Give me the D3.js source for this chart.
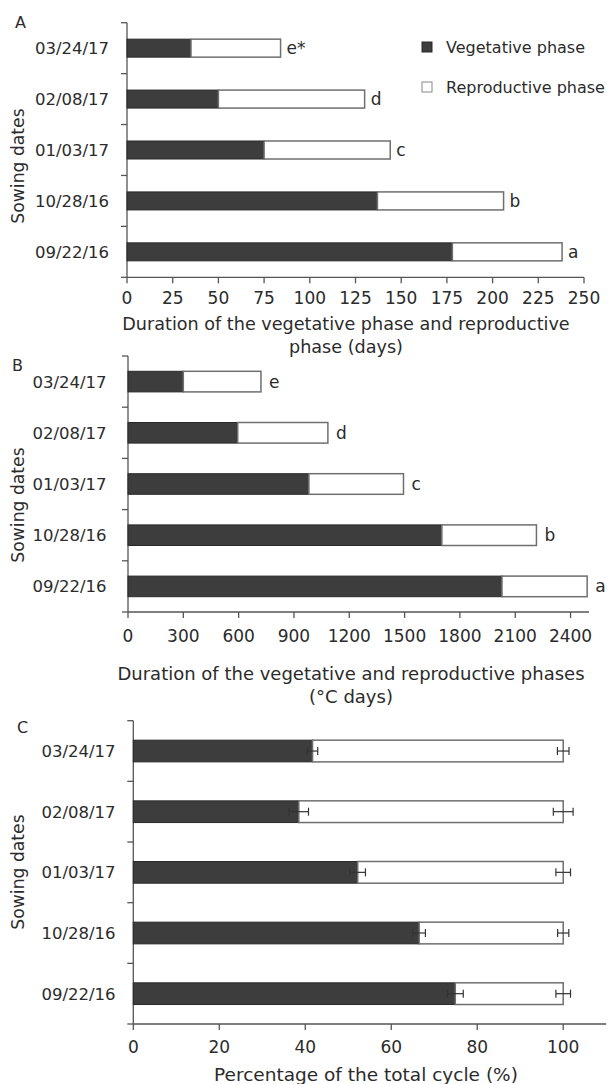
<!DOCTYPE html>
<html><head><meta charset="utf-8">
<script src="https://cdn.jsdelivr.net/npm/d3@7"></script>
<style>
body{margin:0;background:#fff;}
svg text{font-family:'DejaVu Sans',sans-serif;fill:#2b2b2b;}
</style></head>
<body><svg id="c" width="608" height="1084"></svg>
<script>
const categories = ["03/24/17","02/08/17","01/03/17","10/28/16","09/22/16"];
// Panel A: days
const daysVeg = [35, 50, 75, 137, 178];
const daysRep = [49, 80, 69, 69, 60];
const daysLetters = ["e*","d","c","b","a"];
const daysTicks = [0,25,50,75,100,125,150,175,200,225,250];
// Panel B: degree days
const gddVeg = [300, 595, 981, 1702, 2028];
const gddRep = [421, 489, 513, 513, 462];
const gddLetters = ["e","d","c","b","a"];
const gddTicks = [0,300,600,900,1200,1500,1800,2100,2400];
// Panel C: percentage
const pctVeg = [41.7, 38.5, 52.2, 66.5, 74.9];
const pctVegErr = [1.2, 2.25, 1.8, 1.45, 1.85];
const pctTotErr = [1.35, 2.3, 1.7, 1.3, 1.7];
const pctTicks = [0,20,40,60,80,100];
const seriesNames = ["Vegetative phase","Reproductive phase"];

const svg = d3.select("#c");
const DARK = "#3d3d3d", DARKSTROKE="#2a2a2a", LIGHTSTROKE="#6f6f6f", AXIS="#555";
const FS = 16.5;

function panel(o){
  const g = svg.append("g");
  const x = d3.scaleLinear().domain(o.xDomain).range(o.xRange);
  const y = d3.scaleBand().domain(categories).range(o.yRange).paddingInner(0).paddingOuter(0);
  const bh = o.barH;
  g.append("line").attr("x1",x(0)).attr("x2",x(0)).attr("y1",o.yRange[0]).attr("y2",o.yRange[1]).attr("stroke",AXIS).attr("stroke-width",1.3);
  g.append("line").attr("x1",x(0)).attr("x2",x(o.xDomain[1])).attr("y1",o.yRange[1]).attr("y2",o.yRange[1]).attr("stroke",AXIS).attr("stroke-width",1.3);
  const bounds = categories.map(c=>y(c)).concat([o.yRange[1]]);
  g.selectAll(".yt").data(bounds).join("line").attr("x1",x(0)-6).attr("x2",x(0)).attr("y1",d=>d).attr("y2",d=>d).attr("stroke",AXIS).attr("stroke-width",1.3);
  g.selectAll(".xt").data(o.ticks).join("line").attr("x1",d=>x(d)).attr("x2",d=>x(d)).attr("y1",o.yRange[1]).attr("y2",o.yRange[1]+6).attr("stroke",AXIS).attr("stroke-width",1.3);
  g.selectAll(".xl").data(o.ticks).join("text").attr("x",d=>x(d)).attr("y",o.yRange[1]+o.tickLabDy).attr("text-anchor","middle").attr("font-size",17).text(d=>d);
  g.selectAll(".yl").data(categories).join("text").attr("x",o.catX).attr("y",d=>y(d)+y.bandwidth()/2+6).attr("text-anchor","end").attr("font-size",FS).text(d=>d);
  const rows = categories.map((c,i)=>({c, v:o.veg[i], r:o.rep[i], i}));
  g.selectAll(".bv").data(rows).join("rect").attr("x",x(0)).attr("y",d=>y(d.c)+(y.bandwidth()-bh)/2).attr("width",d=>x(d.v)-x(0)).attr("height",bh).attr("fill",DARK).attr("stroke",DARKSTROKE).attr("stroke-width",1);
  g.selectAll(".br").data(rows).join("rect").attr("x",d=>x(d.v)).attr("y",d=>y(d.c)+(y.bandwidth()-bh)/2).attr("width",d=>x(d.v+d.r)-x(d.v)).attr("height",bh).attr("fill","#fff").attr("stroke",LIGHTSTROKE).attr("stroke-width",1.5);
  if(o.letters){
    g.selectAll(".lt").data(rows).join("text").attr("x",d=>x(d.v+d.r)+o.letterGap).attr("y",d=>y(d.c)+y.bandwidth()/2+6).attr("font-size",17).text(d=>o.letters[d.i]);
  }
  if(o.errVeg){
    const ec="#333";
    rows.forEach(d=>{
      const cy = y(d.c)+y.bandwidth()/2;
      [[d.v,o.errVeg[d.i]],[d.v+d.r,o.errTot[d.i]]].forEach(([m,e])=>{
        g.append("line").attr("x1",x(m-e)).attr("x2",x(m+e)).attr("y1",cy).attr("y2",cy).attr("stroke",ec).attr("stroke-width",1.2);
        g.append("line").attr("x1",x(m-e)).attr("x2",x(m-e)).attr("y1",cy-4).attr("y2",cy+4).attr("stroke",ec).attr("stroke-width",1.2);
        g.append("line").attr("x1",x(m+e)).attr("x2",x(m+e)).attr("y1",cy-4).attr("y2",cy+4).attr("stroke",ec).attr("stroke-width",1.2);
      });
    });
  }
  g.append("text").attr("transform",`translate(24,${o.yTitleY}) rotate(-90)`).attr("text-anchor","middle").attr("font-size",17.2).text("Sowing dates");
  o.xTitle.forEach((t,i)=>{
    g.append("text").attr("x",o.xTitleX).attr("y",o.xTitleY+i*23).attr("text-anchor","middle").attr("font-size",o.titleFS).text(t);
  });
  g.append("text").attr("x",o.letterPos[0]).attr("y",o.letterPos[1]).attr("font-family","'Liberation Serif',serif").attr("font-size",16).text(o.panelLetter);
}

panel({xDomain:[0,250], xRange:[127,584], yRange:[22.7,277.3], barH:18, ticks:daysTicks, tickLabDy:27,
  catX:109, veg:daysVeg, rep:daysRep, letters:daysLetters, letterGap:6, yTitleY:166,
  xTitle:["Duration of the vegetative phase and reproductive","phase (days)"], xTitleX:346, xTitleY:330, titleFS:17.6,
  letterPos:[15,28], panelLetter:"A"});

panel({xDomain:[0,2500], xRange:[128,589], yRange:[356,612], barH:20.6, ticks:gddTicks, tickLabDy:30,
  catX:106.5, veg:gddVeg, rep:gddRep, letters:gddLetters, letterGap:8, yTitleY:505,
  xTitle:["Duration of the vegetative and reproductive phases","(°C days)"], xTitleX:351, xTitleY:680, titleFS:18,
  letterPos:[12,371], panelLetter:"B"});

panel({xDomain:[0,110], xRange:[133.3,606.2], yRange:[720.7,1024], barH:21.7, ticks:pctTicks, tickLabDy:29,
  catX:115.5, veg:pctVeg, rep:pctVeg.map(v=>100-v), errVeg:pctVegErr, errTot:pctTotErr, yTitleY:872,
  xTitle:["Percentage of the total cycle (%)"], xTitleX:366, xTitleY:1081, titleFS:18.5,
  letterPos:[17,733], panelLetter:"C"});

const lg = svg.append("g");
seriesNames.forEach((n,i)=>{
  const yy = 42 + i*40;
  lg.append("rect").attr("x",422).attr("y",yy).attr("width",10).attr("height",10)
    .attr("fill", i===0?DARK:"#fff").attr("stroke", i===0?DARKSTROKE:"#888").attr("stroke-width",1);
  lg.append("text").attr("x",446).attr("y",yy+11).attr("font-size",16).text(n);
});
</script></body></html>
